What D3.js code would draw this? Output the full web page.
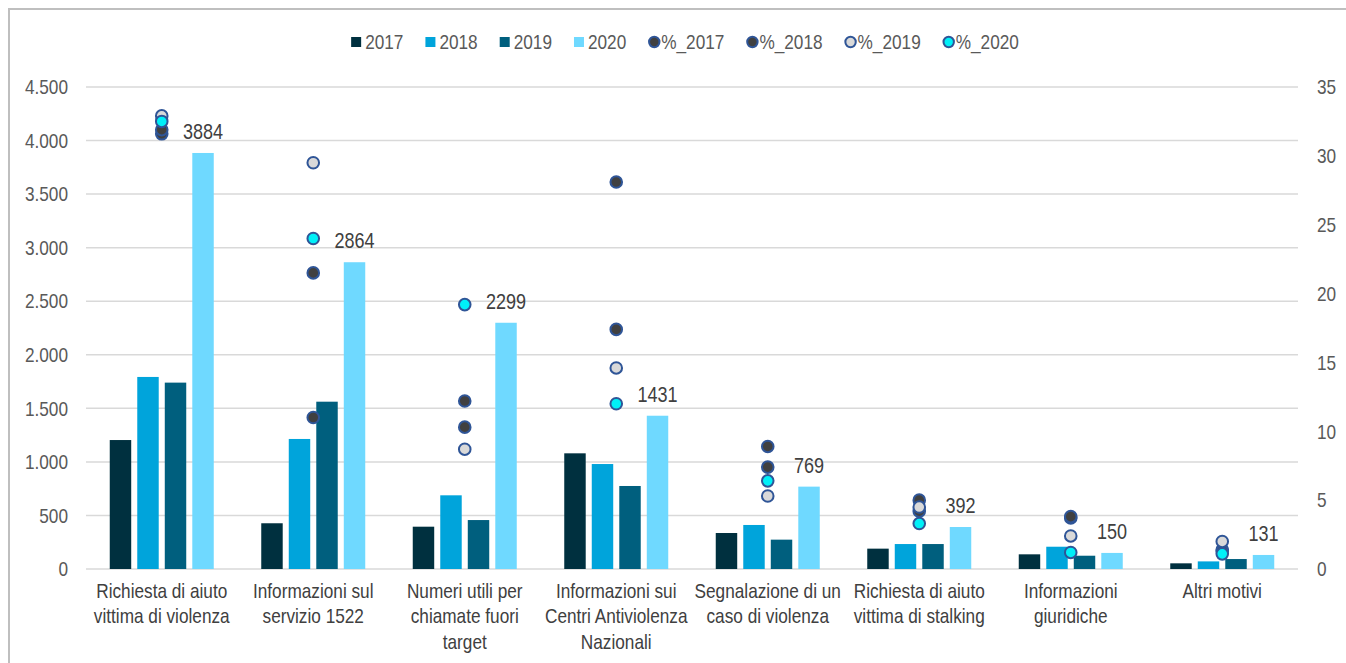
<!DOCTYPE html>
<html>
<head>
<meta charset="utf-8">
<script src="https://cdn.jsdelivr.net/npm/d3@7"></script>
<style>
  html, body { margin: 0; padding: 0; background: #ffffff; }
  svg { display: block; }
  text { font-family: "Liberation Sans Narrow", "Arial Narrow", "Liberation Sans", Arial, sans-serif; }
</style>
</head>
<body>
<svg id="chart" width="1346" height="663"></svg>
<script>
// ---------- data ----------
const categories = [
  ["Richiesta di aiuto", "vittima di violenza"],
  ["Informazioni sul", "servizio 1522"],
  ["Numeri utili per", "chiamate fuori", "target"],
  ["Informazioni sui", "Centri Antiviolenza", "Nazionali"],
  ["Segnalazione di un", "caso di violenza"],
  ["Richiesta di aiuto", "vittima di stalking"],
  ["Informazioni", "giuridiche"],
  ["Altri motivi"]
];
const years = ["2017", "2018", "2019", "2020"];
const values2017 = [1204, 427, 395, 1080, 336, 190, 137, 53];
const values2018 = [1793, 1214, 688, 980, 411, 233, 208, 71];
const values2019 = [1740, 1562, 457, 775, 274, 233, 124, 93];
const values2020 = [3884, 2864, 2299, 1431, 769, 392, 150, 131];
const pctNames = ["%_2017", "%_2018", "%_2019", "%_2020"];
const pct2017 = [31.6, 11.0, 10.3, 28.1, 8.9, 5.0, 3.7, 1.4];
const pct2018 = [31.9, 21.5, 12.2, 17.4, 7.4, 4.2, 3.8, 1.3];
const pct2019 = [32.9, 29.5, 8.7, 14.6, 5.3, 4.5, 2.4, 2.0];
const pct2020 = [32.5, 24.0, 19.2, 12.0, 6.4, 3.3, 1.2, 1.1];
const leftTicks = [0, 500, 1000, 1500, 2000, 2500, 3000, 3500, 4000, 4500];
const rightTicks = [0, 5, 10, 15, 20, 25, 30, 35];

// ---------- styles ----------
const barColors = ["#00303f", "#00a4db", "#005f7e", "#6fd9ff"];
const markerFill = ["#404040", "#404040", "#d9d9d9", "#00f0f8"];
const markerStroke = "#2f5597";

const barSeries = [values2017, values2018, values2019, values2020];
const pctSeries = [pct2017, pct2018, pct2019, pct2020];

const svg = d3.select("#chart");
const plot = { left: 86, right: 1298, top: 87, bottom: 569 };

// narrow-font detection
const narrowScale = (function () {
  const probe = svg.append("text").style("font-size", "21px").text("Richiesta di aiuto");
  const wN = probe.node().getComputedTextLength();
  probe.style("font-family", "'Liberation Sans', Arial, sans-serif");
  const wR = probe.node().getComputedTextLength();
  probe.remove();
  return (wN / wR > 0.92) ? 0.82 : 1;
})();
function squeeze(sel) {
  if (narrowScale === 1) return;
  sel.each(function () {
    const el = d3.select(this);
    let xx = +el.attr("x") || 0;
    const ts = el.select("tspan");
    if (!ts.empty()) xx = +ts.attr("x") || 0;
    el.attr("transform", `translate(${xx},0) scale(${narrowScale},1) translate(${-xx},0)`);
  });
}

// outer border
svg.append("rect")
  .attr("x", 9).attr("y", 9).attr("width", 1346).attr("height", 700)
  .attr("fill", "#ffffff").attr("stroke", "#bfbfbf").attr("stroke-width", 2);

const catIdx = d3.range(categories.length);
const x = d3.scaleBand().domain(catIdx).range([plot.left, plot.right]).paddingInner(0).paddingOuter(0);
const groupW = 104;
const xi = d3.scaleBand().domain(years).range([0, groupW]).paddingInner(0.22).paddingOuter(0);
const yL = d3.scaleLinear().domain([0, 4500]).range([plot.bottom, plot.top]);
const yR = d3.scaleLinear().domain([0, 35]).range([plot.bottom, plot.top]);

const fmtIt = d3.formatLocale({ decimal: ",", thousands: ".", grouping: [3], currency: ["€", ""] }).format(",d");

// gridlines
svg.append("g").selectAll("line").data(leftTicks).join("line")
  .attr("x1", plot.left).attr("x2", plot.right)
  .attr("y1", d => yL(d)).attr("y2", d => yL(d))
  .attr("stroke", "#d9d9d9").attr("stroke-width", 1.5);

// left axis
const axL = svg.append("g").attr("transform", `translate(${plot.left},0)`)
  .call(d3.axisLeft(yL).tickValues(leftTicks).tickFormat(fmtIt).tickSize(0).tickPadding(18));
axL.select(".domain").remove();
axL.selectAll("text").attr("fill", "#595959").style("font-size", "21px");

// right axis
const axR = svg.append("g").attr("transform", `translate(${plot.right},0)`)
  .call(d3.axisRight(yR).tickValues(rightTicks).tickFormat(d3.format("d")).tickSize(0).tickPadding(19));
axR.select(".domain").remove();
axR.selectAll("text").attr("fill", "#595959").style("font-size", "21px");

// bars
const groupOffset = (x.bandwidth() - groupW) / 2;
barSeries.forEach((vals, s) => {
  svg.append("g").selectAll("rect").data(vals).join("rect")
    .attr("x", (d, i) => x(i) + groupOffset + xi(years[s]))
    .attr("width", xi.bandwidth())
    .attr("y", d => yL(d))
    .attr("height", d => yL(0) - yL(d))
    .attr("fill", barColors[s]);
});

// data labels for 2020
svg.append("g").selectAll("text").data(values2020).join("text")
  .attr("x", (d, i) => x(i) + groupOffset + xi("2020") + xi.bandwidth() / 2)
  .attr("y", d => yL(d) - 14)
  .attr("text-anchor", "middle")
  .attr("fill", "#404040")
  .style("font-size", "22px")
  .text(d => d);

// percent markers
pctSeries.forEach((vals, s) => {
  svg.append("g").selectAll("circle").data(vals).join("circle")
    .attr("cx", (d, i) => x(i) + x.bandwidth() / 2)
    .attr("cy", d => yR(d))
    .attr("r", 5.8)
    .attr("fill", markerFill[s])
    .attr("stroke", markerStroke)
    .attr("stroke-width", 2);
});

// category labels
const catG = svg.append("g");
categories.forEach((lines, i) => {
  const t = catG.append("text")
    .attr("text-anchor", "middle")
    .attr("fill", "#404040")
    .style("font-size", "21px");
  lines.forEach((ln, k) => {
    t.append("tspan")
      .attr("x", x(i) + x.bandwidth() / 2)
      .attr("y", 598 + k * 25.5)
      .text(ln);
  });
});

// squeeze everything drawn so far
squeeze(svg.selectAll("text"));

// legend
const legG = svg.append("g");
const legendItems = years.map((y, s) => ({ name: y, type: "bar", s }))
  .concat(pctNames.map((n, s) => ({ name: n, type: "pct", s })));
let cursor = 0;
const legY = 42;
const legGap = 22;
legendItems.forEach(it => {
  const g = legG.append("g");
  if (it.type === "bar") {
    g.append("rect").attr("x", cursor).attr("y", legY - 5).attr("width", 10).attr("height", 10)
      .attr("fill", barColors[it.s]);
    cursor += 14;
  } else {
    g.append("circle").attr("cx", cursor + 6).attr("cy", legY).attr("r", 5.2)
      .attr("fill", markerFill[it.s]).attr("stroke", markerStroke).attr("stroke-width", 2);
    cursor += 13;
  }
  const tx = g.append("text").attr("x", cursor).attr("y", legY + 7.5)
    .attr("fill", "#595959").style("font-size", "21px").text(it.name);
  squeeze(tx);
  cursor += tx.node().getComputedTextLength() * narrowScale + legGap;
});
const legW = cursor - legGap;
legG.attr("transform", `translate(${685 - legW / 2},0)`);
</script>
</body>
</html>
